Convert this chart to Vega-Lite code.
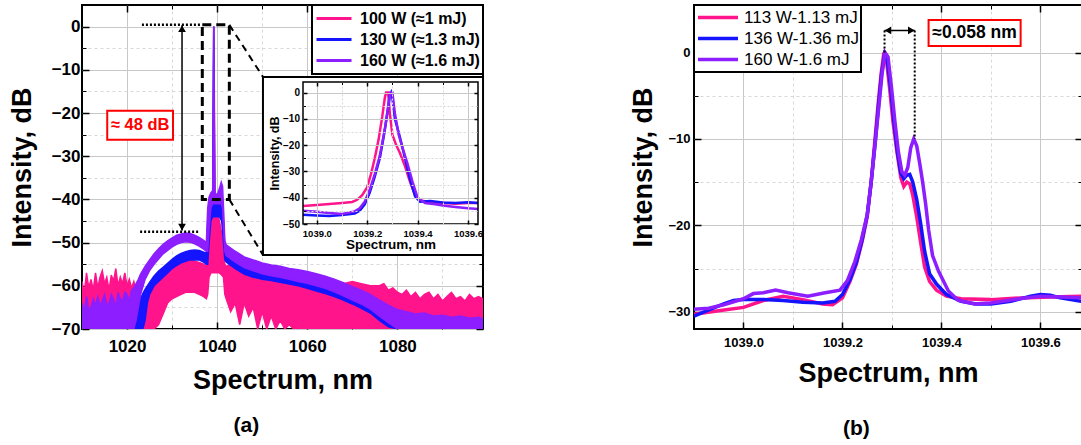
{
"$schema":"https://vega.github.io/schema/vega-lite/v6.json",
"padding":{"left":7,"top":3,"right":0,"bottom":0},
"config":{"font":"Liberation Sans","view":{"stroke":"black","strokeWidth":2},
"legend":{"strokeWidth":2},
"axis":{"grid":false,"labels":false,"domain":false,"ticks":true,"tickColor":"black","tickWidth":1.5,"labelColor":"black","titleColor":"black","labelFontWeight":"bold","titleFontWeight":"bold","gridColor":"#c8c8c8","gridWidth":1,"labelOverlap":false,"labelFlush":false,"minExtent":0}},
"spacing":142,
"resolve":{"scale":{"fill":"independent","stroke":"independent"}},
"hconcat":[
{"width":401,"height":324,
"title":{"text":"(a)","orient":"bottom","frame":"bounds","anchor":"middle","fontSize":21,"fontWeight":"bold","offset":22,"color":"black"},
"resolve":{"scale":{"x":"independent","y":"independent"},"axis":{"x":"independent","y":"independent"}},
"layer":[
{"resolve":{"axis":{"x":"independent","y":"independent"}},
"layer":[
{"data":{"values":[
{"s":"100 W (≈1 mJ)","x":1010,"hi":-59,"lo":-66},{"s":"100 W (≈1 mJ)","x":1010.5,"hi":-62,"lo":-66},{"s":"100 W (≈1 mJ)","x":1011,"hi":-57,"lo":-66},{"s":"100 W (≈1 mJ)","x":1011.5,"hi":-60.5,"lo":-66},{"s":"100 W (≈1 mJ)","x":1012,"hi":-58.5,"lo":-66},{"s":"100 W (≈1 mJ)","x":1012.5,"hi":-61,"lo":-66},{"s":"100 W (≈1 mJ)","x":1013,"hi":-57,"lo":-66},{"s":"100 W (≈1 mJ)","x":1013.5,"hi":-60.5,"lo":-66},{"s":"100 W (≈1 mJ)","x":1014,"hi":-58,"lo":-66},{"s":"100 W (≈1 mJ)","x":1014.5,"hi":-56.5,"lo":-66},{"s":"100 W (≈1 mJ)","x":1015,"hi":-59.5,"lo":-66},{"s":"100 W (≈1 mJ)","x":1015.5,"hi":-58,"lo":-66},{"s":"100 W (≈1 mJ)","x":1016,"hi":-61,"lo":-66},{"s":"100 W (≈1 mJ)","x":1016.5,"hi":-57.5,"lo":-66},{"s":"100 W (≈1 mJ)","x":1017,"hi":-59,"lo":-66},{"s":"100 W (≈1 mJ)","x":1017.5,"hi":-56,"lo":-66},{"s":"100 W (≈1 mJ)","x":1018,"hi":-60,"lo":-66},{"s":"100 W (≈1 mJ)","x":1018.5,"hi":-58,"lo":-66},{"s":"100 W (≈1 mJ)","x":1019,"hi":-59.5,"lo":-66},{"s":"100 W (≈1 mJ)","x":1019.5,"hi":-57,"lo":-66},{"s":"100 W (≈1 mJ)","x":1020,"hi":-60,"lo":-66},{"s":"100 W (≈1 mJ)","x":1020.5,"hi":-58.5,"lo":-66},{"s":"100 W (≈1 mJ)","x":1021,"hi":-60.5,"lo":-66},{"s":"100 W (≈1 mJ)","x":1021.5,"hi":-59,"lo":-66},{"s":"100 W (≈1 mJ)","x":1022,"hi":-61,"lo":-67},{"s":"100 W (≈1 mJ)","x":1022.5,"hi":-62.5,"lo":-68},{"s":"100 W (≈1 mJ)","x":1023,"hi":-64,"lo":-70},{"s":"100 W (≈1 mJ)","x":1023.5,"hi":-67,"lo":-70},{"s":"100 W (≈1 mJ)","x":1024,"hi":-64.5,"lo":-70},{"s":"100 W (≈1 mJ)","x":1024.5,"hi":-61,"lo":-70},{"s":"100 W (≈1 mJ)","x":1025,"hi":-60,"lo":-70},{"s":"100 W (≈1 mJ)","x":1026,"hi":-58.8,"lo":-70},{"s":"100 W (≈1 mJ)","x":1027,"hi":-58,"lo":-69},{"s":"100 W (≈1 mJ)","x":1028,"hi":-57.2,"lo":-66.5},{"s":"100 W (≈1 mJ)","x":1029,"hi":-56.3,"lo":-64},{"s":"100 W (≈1 mJ)","x":1030,"hi":-55.6,"lo":-63},{"s":"100 W (≈1 mJ)","x":1031,"hi":-55,"lo":-62.5},{"s":"100 W (≈1 mJ)","x":1032,"hi":-54.8,"lo":-62},{"s":"100 W (≈1 mJ)","x":1033,"hi":-54.2,"lo":-61.5},{"s":"100 W (≈1 mJ)","x":1034,"hi":-54,"lo":-61.5},{"s":"100 W (≈1 mJ)","x":1035,"hi":-54.3,"lo":-61.5},{"s":"100 W (≈1 mJ)","x":1036,"hi":-54.6,"lo":-62},{"s":"100 W (≈1 mJ)","x":1037,"hi":-55,"lo":-62.5},{"s":"100 W (≈1 mJ)","x":1037.6,"hi":-55.5,"lo":-63},{"s":"100 W (≈1 mJ)","x":1037.9,"hi":-51,"lo":-62},{"s":"100 W (≈1 mJ)","x":1038.2,"hi":-45.5,"lo":-58},{"s":"100 W (≈1 mJ)","x":1038.6,"hi":-43.5,"lo":-57},{"s":"100 W (≈1 mJ)","x":1039.0,"hi":-42,"lo":-57},{"s":"100 W (≈1 mJ)","x":1039.15,"hi":-20,"lo":-57},{"s":"100 W (≈1 mJ)","x":1039.27,"hi":0,"lo":-57},{"s":"100 W (≈1 mJ)","x":1039.4,"hi":-20,"lo":-57},{"s":"100 W (≈1 mJ)","x":1039.55,"hi":-42,"lo":-57},{"s":"100 W (≈1 mJ)","x":1040,"hi":-43,"lo":-57},{"s":"100 W (≈1 mJ)","x":1040.5,"hi":-45,"lo":-57},{"s":"100 W (≈1 mJ)","x":1041,"hi":-48,"lo":-57.5},{"s":"100 W (≈1 mJ)","x":1041.4,"hi":-53,"lo":-58},{"s":"100 W (≈1 mJ)","x":1041.7,"hi":-55,"lo":-62},{"s":"100 W (≈1 mJ)","x":1042,"hi":-55.5,"lo":-63},{"s":"100 W (≈1 mJ)","x":1043,"hi":-55,"lo":-66},{"s":"100 W (≈1 mJ)","x":1044,"hi":-56,"lo":-64},{"s":"100 W (≈1 mJ)","x":1045,"hi":-55.5,"lo":-69},{"s":"100 W (≈1 mJ)","x":1046,"hi":-56.5,"lo":-64},{"s":"100 W (≈1 mJ)","x":1047,"hi":-56,"lo":-67},{"s":"100 W (≈1 mJ)","x":1048,"hi":-57,"lo":-65},{"s":"100 W (≈1 mJ)","x":1049,"hi":-56.5,"lo":-70},{"s":"100 W (≈1 mJ)","x":1050,"hi":-57,"lo":-66},{"s":"100 W (≈1 mJ)","x":1051,"hi":-57.5,"lo":-70},{"s":"100 W (≈1 mJ)","x":1052,"hi":-57,"lo":-67},{"s":"100 W (≈1 mJ)","x":1053,"hi":-58,"lo":-70},{"s":"100 W (≈1 mJ)","x":1054,"hi":-57.5,"lo":-68},{"s":"100 W (≈1 mJ)","x":1055,"hi":-58,"lo":-70},{"s":"100 W (≈1 mJ)","x":1056,"hi":-58.5,"lo":-69},{"s":"100 W (≈1 mJ)","x":1057,"hi":-58,"lo":-70},{"s":"100 W (≈1 mJ)","x":1058,"hi":-59,"lo":-70},{"s":"100 W (≈1 mJ)","x":1060,"hi":-58.5,"lo":-70},{"s":"100 W (≈1 mJ)","x":1062,"hi":-59,"lo":-70},{"s":"100 W (≈1 mJ)","x":1064,"hi":-58.5,"lo":-70},{"s":"100 W (≈1 mJ)","x":1066,"hi":-59,"lo":-70},{"s":"100 W (≈1 mJ)","x":1068,"hi":-59.5,"lo":-70},{"s":"100 W (≈1 mJ)","x":1070,"hi":-59,"lo":-70},{"s":"100 W (≈1 mJ)","x":1072,"hi":-59.5,"lo":-70},{"s":"100 W (≈1 mJ)","x":1074,"hi":-60,"lo":-70},{"s":"100 W (≈1 mJ)","x":1076,"hi":-60,"lo":-70},{"s":"100 W (≈1 mJ)","x":1077,"hi":-59.5,"lo":-70},{"s":"100 W (≈1 mJ)","x":1078,"hi":-61,"lo":-70},{"s":"100 W (≈1 mJ)","x":1079,"hi":-60.5,"lo":-70},{"s":"100 W (≈1 mJ)","x":1080,"hi":-61.5,"lo":-70},{"s":"100 W (≈1 mJ)","x":1081,"hi":-62,"lo":-70},{"s":"100 W (≈1 mJ)","x":1082,"hi":-61,"lo":-70},{"s":"100 W (≈1 mJ)","x":1083,"hi":-62.5,"lo":-70},{"s":"100 W (≈1 mJ)","x":1084,"hi":-61.5,"lo":-70},{"s":"100 W (≈1 mJ)","x":1085,"hi":-63,"lo":-70},{"s":"100 W (≈1 mJ)","x":1086,"hi":-62,"lo":-70},{"s":"100 W (≈1 mJ)","x":1087,"hi":-61.5,"lo":-70},{"s":"100 W (≈1 mJ)","x":1088,"hi":-63,"lo":-70},{"s":"100 W (≈1 mJ)","x":1089,"hi":-62,"lo":-70},{"s":"100 W (≈1 mJ)","x":1090,"hi":-63.5,"lo":-70},{"s":"100 W (≈1 mJ)","x":1091,"hi":-62.5,"lo":-70},{"s":"100 W (≈1 mJ)","x":1092,"hi":-61.5,"lo":-70},{"s":"100 W (≈1 mJ)","x":1093,"hi":-63,"lo":-70},{"s":"100 W (≈1 mJ)","x":1094,"hi":-62.5,"lo":-70},{"s":"100 W (≈1 mJ)","x":1095,"hi":-63.5,"lo":-70},{"s":"100 W (≈1 mJ)","x":1096,"hi":-62,"lo":-70},{"s":"100 W (≈1 mJ)","x":1097,"hi":-63,"lo":-70},{"s":"100 W (≈1 mJ)","x":1098,"hi":-62.5,"lo":-70},{"s":"100 W (≈1 mJ)","x":1099,"hi":-63,"lo":-70},
{"s":"130 W (≈1.3 mJ)","x":1010,"hi":-67,"lo":-70},{"s":"130 W (≈1.3 mJ)","x":1011,"hi":-66,"lo":-70},{"s":"130 W (≈1.3 mJ)","x":1012,"hi":-68,"lo":-70},{"s":"130 W (≈1.3 mJ)","x":1013,"hi":-66.5,"lo":-70},{"s":"130 W (≈1.3 mJ)","x":1014,"hi":-67,"lo":-70},{"s":"130 W (≈1.3 mJ)","x":1015,"hi":-65.5,"lo":-70},{"s":"130 W (≈1.3 mJ)","x":1016,"hi":-67.5,"lo":-70},{"s":"130 W (≈1.3 mJ)","x":1017,"hi":-66,"lo":-70},{"s":"130 W (≈1.3 mJ)","x":1018,"hi":-67,"lo":-70},{"s":"130 W (≈1.3 mJ)","x":1019,"hi":-65.5,"lo":-70},{"s":"130 W (≈1.3 mJ)","x":1020,"hi":-66.5,"lo":-70},{"s":"130 W (≈1.3 mJ)","x":1021,"hi":-67,"lo":-70},{"s":"130 W (≈1.3 mJ)","x":1022,"hi":-67,"lo":-70},{"s":"130 W (≈1.3 mJ)","x":1022.5,"hi":-65,"lo":-70},{"s":"130 W (≈1.3 mJ)","x":1023,"hi":-63,"lo":-70},{"s":"130 W (≈1.3 mJ)","x":1023.5,"hi":-61.8,"lo":-70},{"s":"130 W (≈1.3 mJ)","x":1024,"hi":-60.8,"lo":-68},{"s":"130 W (≈1.3 mJ)","x":1024.5,"hi":-60,"lo":-64},{"s":"130 W (≈1.3 mJ)","x":1025,"hi":-59.2,"lo":-62},{"s":"130 W (≈1.3 mJ)","x":1026,"hi":-57.7,"lo":-60},{"s":"130 W (≈1.3 mJ)","x":1027,"hi":-56.6,"lo":-59},{"s":"130 W (≈1.3 mJ)","x":1028,"hi":-55.7,"lo":-58},{"s":"130 W (≈1.3 mJ)","x":1029,"hi":-54.8,"lo":-57},{"s":"130 W (≈1.3 mJ)","x":1030,"hi":-53.9,"lo":-56},{"s":"130 W (≈1.3 mJ)","x":1031,"hi":-53.1,"lo":-55.3},{"s":"130 W (≈1.3 mJ)","x":1032,"hi":-52.5,"lo":-54.7},{"s":"130 W (≈1.3 mJ)","x":1033,"hi":-52.1,"lo":-54.3},{"s":"130 W (≈1.3 mJ)","x":1034,"hi":-51.8,"lo":-54},{"s":"130 W (≈1.3 mJ)","x":1035,"hi":-51.7,"lo":-54},{"s":"130 W (≈1.3 mJ)","x":1036,"hi":-51.8,"lo":-54},{"s":"130 W (≈1.3 mJ)","x":1037,"hi":-52.2,"lo":-54.5},{"s":"130 W (≈1.3 mJ)","x":1037.6,"hi":-52.5,"lo":-55},{"s":"130 W (≈1.3 mJ)","x":1037.9,"hi":-45,"lo":-55},{"s":"130 W (≈1.3 mJ)","x":1038.2,"hi":-41.5,"lo":-50},{"s":"130 W (≈1.3 mJ)","x":1038.6,"hi":-40.5,"lo":-45},{"s":"130 W (≈1.3 mJ)","x":1039.0,"hi":-40,"lo":-44},{"s":"130 W (≈1.3 mJ)","x":1039.1,"hi":-20,"lo":-44},{"s":"130 W (≈1.3 mJ)","x":1039.22,"hi":0,"lo":-44},{"s":"130 W (≈1.3 mJ)","x":1039.34,"hi":-20,"lo":-44},{"s":"130 W (≈1.3 mJ)","x":1039.45,"hi":-40,"lo":-44},{"s":"130 W (≈1.3 mJ)","x":1040,"hi":-40,"lo":-44},{"s":"130 W (≈1.3 mJ)","x":1040.5,"hi":-39.5,"lo":-44},{"s":"130 W (≈1.3 mJ)","x":1041,"hi":-40,"lo":-45},{"s":"130 W (≈1.3 mJ)","x":1041.4,"hi":-45,"lo":-50},{"s":"130 W (≈1.3 mJ)","x":1041.7,"hi":-51,"lo":-54},{"s":"130 W (≈1.3 mJ)","x":1042,"hi":-52,"lo":-54.5},{"s":"130 W (≈1.3 mJ)","x":1044,"hi":-53.5,"lo":-56},{"s":"130 W (≈1.3 mJ)","x":1046,"hi":-54.8,"lo":-57.3},{"s":"130 W (≈1.3 mJ)","x":1048,"hi":-55.5,"lo":-58},{"s":"130 W (≈1.3 mJ)","x":1050,"hi":-56,"lo":-58.5},{"s":"130 W (≈1.3 mJ)","x":1052,"hi":-56.3,"lo":-58.8},{"s":"130 W (≈1.3 mJ)","x":1054,"hi":-56.6,"lo":-59.2},{"s":"130 W (≈1.3 mJ)","x":1056,"hi":-57,"lo":-59.6},{"s":"130 W (≈1.3 mJ)","x":1058,"hi":-57.5,"lo":-60},{"s":"130 W (≈1.3 mJ)","x":1060,"hi":-58,"lo":-60.6},{"s":"130 W (≈1.3 mJ)","x":1062,"hi":-58.5,"lo":-61.2},{"s":"130 W (≈1.3 mJ)","x":1064,"hi":-59,"lo":-61.8},{"s":"130 W (≈1.3 mJ)","x":1066,"hi":-59.8,"lo":-62.5},{"s":"130 W (≈1.3 mJ)","x":1068,"hi":-60.5,"lo":-63.3},{"s":"130 W (≈1.3 mJ)","x":1070,"hi":-61.5,"lo":-64.2},{"s":"130 W (≈1.3 mJ)","x":1072,"hi":-62.5,"lo":-65.2},{"s":"130 W (≈1.3 mJ)","x":1074,"hi":-63.5,"lo":-66.3},{"s":"130 W (≈1.3 mJ)","x":1076,"hi":-65,"lo":-68},{"s":"130 W (≈1.3 mJ)","x":1078,"hi":-66.5,"lo":-69.5},{"s":"130 W (≈1.3 mJ)","x":1080,"hi":-68,"lo":-70},{"s":"130 W (≈1.3 mJ)","x":1082,"hi":-69,"lo":-70},{"s":"130 W (≈1.3 mJ)","x":1086,"hi":-69.5,"lo":-70},{"s":"130 W (≈1.3 mJ)","x":1090,"hi":-69,"lo":-70},{"s":"130 W (≈1.3 mJ)","x":1094,"hi":-69.5,"lo":-70},{"s":"130 W (≈1.3 mJ)","x":1099,"hi":-69.5,"lo":-70},
{"s":"160 W (≈1.6 mJ)","x":1010,"hi":-64,"lo":-70},{"s":"160 W (≈1.6 mJ)","x":1010.5,"hi":-66,"lo":-70},{"s":"160 W (≈1.6 mJ)","x":1011,"hi":-62.5,"lo":-70},{"s":"160 W (≈1.6 mJ)","x":1011.5,"hi":-65.5,"lo":-70},{"s":"160 W (≈1.6 mJ)","x":1012,"hi":-65,"lo":-70},{"s":"160 W (≈1.6 mJ)","x":1012.5,"hi":-63,"lo":-70},{"s":"160 W (≈1.6 mJ)","x":1013,"hi":-64.5,"lo":-70},{"s":"160 W (≈1.6 mJ)","x":1013.5,"hi":-62.5,"lo":-70},{"s":"160 W (≈1.6 mJ)","x":1014,"hi":-64.5,"lo":-70},{"s":"160 W (≈1.6 mJ)","x":1014.5,"hi":-63.5,"lo":-70},{"s":"160 W (≈1.6 mJ)","x":1015,"hi":-62,"lo":-70},{"s":"160 W (≈1.6 mJ)","x":1015.5,"hi":-64.5,"lo":-70},{"s":"160 W (≈1.6 mJ)","x":1016,"hi":-64,"lo":-70},{"s":"160 W (≈1.6 mJ)","x":1016.5,"hi":-62,"lo":-70},{"s":"160 W (≈1.6 mJ)","x":1017,"hi":-63,"lo":-70},{"s":"160 W (≈1.6 mJ)","x":1017.5,"hi":-65,"lo":-70},{"s":"160 W (≈1.6 mJ)","x":1018,"hi":-61.5,"lo":-70},{"s":"160 W (≈1.6 mJ)","x":1018.5,"hi":-63,"lo":-70},{"s":"160 W (≈1.6 mJ)","x":1019,"hi":-63.5,"lo":-70},{"s":"160 W (≈1.6 mJ)","x":1019.5,"hi":-61.5,"lo":-70},{"s":"160 W (≈1.6 mJ)","x":1020,"hi":-62,"lo":-70},{"s":"160 W (≈1.6 mJ)","x":1020.5,"hi":-63.5,"lo":-70},{"s":"160 W (≈1.6 mJ)","x":1021,"hi":-61,"lo":-70},{"s":"160 W (≈1.6 mJ)","x":1021.5,"hi":-60.5,"lo":-70},{"s":"160 W (≈1.6 mJ)","x":1022,"hi":-59.5,"lo":-68},{"s":"160 W (≈1.6 mJ)","x":1022.5,"hi":-58.5,"lo":-65},{"s":"160 W (≈1.6 mJ)","x":1023,"hi":-57.3,"lo":-62},{"s":"160 W (≈1.6 mJ)","x":1024,"hi":-55.5,"lo":-58.5},{"s":"160 W (≈1.6 mJ)","x":1025,"hi":-54,"lo":-56.5},{"s":"160 W (≈1.6 mJ)","x":1026,"hi":-52.6,"lo":-55},{"s":"160 W (≈1.6 mJ)","x":1027,"hi":-51.4,"lo":-53.8},{"s":"160 W (≈1.6 mJ)","x":1028,"hi":-50.4,"lo":-52.6},{"s":"160 W (≈1.6 mJ)","x":1029,"hi":-49.6,"lo":-51.8},{"s":"160 W (≈1.6 mJ)","x":1030,"hi":-48.9,"lo":-51},{"s":"160 W (≈1.6 mJ)","x":1031,"hi":-48.3,"lo":-50.4},{"s":"160 W (≈1.6 mJ)","x":1032,"hi":-48,"lo":-50},{"s":"160 W (≈1.6 mJ)","x":1033,"hi":-47.8,"lo":-49.8},{"s":"160 W (≈1.6 mJ)","x":1034,"hi":-47.9,"lo":-49.9},{"s":"160 W (≈1.6 mJ)","x":1035,"hi":-48.3,"lo":-50.3},{"s":"160 W (≈1.6 mJ)","x":1036,"hi":-48.8,"lo":-50.8},{"s":"160 W (≈1.6 mJ)","x":1037,"hi":-49.5,"lo":-51.5},{"s":"160 W (≈1.6 mJ)","x":1037.6,"hi":-50,"lo":-52},{"s":"160 W (≈1.6 mJ)","x":1037.9,"hi":-42,"lo":-52},{"s":"160 W (≈1.6 mJ)","x":1038.2,"hi":-39.5,"lo":-47},{"s":"160 W (≈1.6 mJ)","x":1038.6,"hi":-38.5,"lo":-42},{"s":"160 W (≈1.6 mJ)","x":1039.0,"hi":-38,"lo":-41},{"s":"160 W (≈1.6 mJ)","x":1039.12,"hi":-20,"lo":-41},{"s":"160 W (≈1.6 mJ)","x":1039.24,"hi":0,"lo":-41},{"s":"160 W (≈1.6 mJ)","x":1039.36,"hi":-20,"lo":-41},{"s":"160 W (≈1.6 mJ)","x":1039.48,"hi":-38.5,"lo":-41},{"s":"160 W (≈1.6 mJ)","x":1040,"hi":-39,"lo":-41},{"s":"160 W (≈1.6 mJ)","x":1040.5,"hi":-37.5,"lo":-41},{"s":"160 W (≈1.6 mJ)","x":1040.9,"hi":-36,"lo":-41},{"s":"160 W (≈1.6 mJ)","x":1041.2,"hi":-37,"lo":-42},{"s":"160 W (≈1.6 mJ)","x":1041.45,"hi":-43,"lo":-48},{"s":"160 W (≈1.6 mJ)","x":1041.7,"hi":-49.5,"lo":-52},{"s":"160 W (≈1.6 mJ)","x":1042,"hi":-50.5,"lo":-53},{"s":"160 W (≈1.6 mJ)","x":1044,"hi":-52,"lo":-54.5},{"s":"160 W (≈1.6 mJ)","x":1046,"hi":-53.3,"lo":-55.8},{"s":"160 W (≈1.6 mJ)","x":1048,"hi":-54,"lo":-56.5},{"s":"160 W (≈1.6 mJ)","x":1050,"hi":-54.7,"lo":-57.2},{"s":"160 W (≈1.6 mJ)","x":1052,"hi":-55.2,"lo":-57.7},{"s":"160 W (≈1.6 mJ)","x":1054,"hi":-55.5,"lo":-58},{"s":"160 W (≈1.6 mJ)","x":1056,"hi":-56,"lo":-58.5},{"s":"160 W (≈1.6 mJ)","x":1058,"hi":-56.3,"lo":-59},{"s":"160 W (≈1.6 mJ)","x":1060,"hi":-56.7,"lo":-59.4},{"s":"160 W (≈1.6 mJ)","x":1062,"hi":-57.2,"lo":-60},{"s":"160 W (≈1.6 mJ)","x":1064,"hi":-57.8,"lo":-60.6},{"s":"160 W (≈1.6 mJ)","x":1066,"hi":-58.5,"lo":-61.4},{"s":"160 W (≈1.6 mJ)","x":1068,"hi":-59.3,"lo":-62.3},{"s":"160 W (≈1.6 mJ)","x":1070,"hi":-60.2,"lo":-63.3},{"s":"160 W (≈1.6 mJ)","x":1072,"hi":-61,"lo":-64.2},{"s":"160 W (≈1.6 mJ)","x":1074,"hi":-62,"lo":-65.4},{"s":"160 W (≈1.6 mJ)","x":1076,"hi":-63.3,"lo":-67},{"s":"160 W (≈1.6 mJ)","x":1078,"hi":-64.5,"lo":-68.5},{"s":"160 W (≈1.6 mJ)","x":1080,"hi":-65.5,"lo":-70},{"s":"160 W (≈1.6 mJ)","x":1082,"hi":-66,"lo":-70},{"s":"160 W (≈1.6 mJ)","x":1084,"hi":-66.5,"lo":-70},{"s":"160 W (≈1.6 mJ)","x":1086,"hi":-66.3,"lo":-70},{"s":"160 W (≈1.6 mJ)","x":1088,"hi":-67,"lo":-70},{"s":"160 W (≈1.6 mJ)","x":1090,"hi":-66.8,"lo":-70},{"s":"160 W (≈1.6 mJ)","x":1092,"hi":-67.3,"lo":-70},{"s":"160 W (≈1.6 mJ)","x":1094,"hi":-67,"lo":-70},{"s":"160 W (≈1.6 mJ)","x":1096,"hi":-67.5,"lo":-70},{"s":"160 W (≈1.6 mJ)","x":1098,"hi":-67.3,"lo":-70},{"s":"160 W (≈1.6 mJ)","x":1099,"hi":-67.7,"lo":-70}
]},
"mark":{"type":"area","strokeWidth":1.5,"clip":true,"opacity":1},
"encoding":{
"x":{"field":"x","type":"quantitative","scale":{"domain":[1010,1099],"nice":false,"zero":false},"axis":{"orient":"bottom","values":[1020,1040,1060,1080],"format":"d","labels":true,"labelFontSize":17,"labelPadding":16,"tickSize":-7,"grid":true,"title":"Spectrum, nm","titleFontSize":27,"titlePadding":13}},
"y":{"field":"hi","type":"quantitative","scale":{"domain":[-70,5],"nice":false,"zero":false},"axis":{"orient":"left","values":[0,-10,-20,-30,-40,-50,-60,-70],"format":"d","labels":true,"labelFontSize":17,"labelPadding":9,"tickSize":-7,"grid":true,"title":"Intensity, dB","titleFontSize":27,"titlePadding":14.5}},
"y2":{"field":"lo"},
"fill":{"field":"s","type":"nominal","scale":{"domain":["160 W (≈1.6 mJ)","130 W (≈1.3 mJ)","100 W (≈1 mJ)"],"range":["#8C1EFF","#1414FF","#FF148C"]},"legend":null},
"stroke":{"field":"s","type":"nominal","scale":{"domain":["100 W (≈1 mJ)","130 W (≈1.3 mJ)","160 W (≈1.6 mJ)"],"range":["#FF148C","#1414FF","#8C1EFF"]},"legend":{"orient":"top-right","title":null,"symbolType":"stroke","symbolSize":1225,"symbolStrokeWidth":3,"clipHeight":21,"labelFontSize":16,"labelFontWeight":"bold","labelColor":"black","padding":3,"offset":0,"strokeColor":"black","fillColor":"white","labelOffset":7,"rowPadding":0}}
}},
{"data":{"values":[{"x":1023.3,"x2":1036.4,"y":0.4},{"x":1022.9,"x2":1036,"y":-47.5}]},
"mark":{"type":"rule","strokeDash":[2,2],"strokeWidth":2.5,"color":"black"},
"encoding":{
"x":{"field":"x","type":"quantitative","scale":{"domain":[1010,1099],"nice":false,"zero":false},"axis":{"orient":"bottom","values":[1030,1050,1070,1090],"tickSize":-4,"tickWidth":1,"grid":true,"gridDash":[3,3],"gridColor":"#d8d8d8","title":null}},
"x2":{"field":"x2"},
"y":{"field":"y","type":"quantitative","scale":{"domain":[-70,5],"nice":false,"zero":false},"axis":{"orient":"left","values":[-5,-15,-25,-35,-45,-55,-65],"tickSize":-4,"tickWidth":1,"grid":true,"gridDash":[3,3],"gridColor":"#d8d8d8","title":null}}
}},
{"data":{"values":[{"x":1036.7,"x2":1042.7,"y":0.4,"y2":-40}]},
"mark":{"type":"rect","fill":"transparent","stroke":"black","strokeWidth":3,"strokeDash":[9,5]},
"encoding":{
"x":{"field":"x","type":"quantitative","scale":{"domain":[1010,1099],"nice":false,"zero":false},"axis":{"orient":"top","values":[1020,1040,1060,1080],"tickSize":-7,"title":null}},
"x2":{"field":"x2"},
"y":{"field":"y","type":"quantitative","scale":{"domain":[-70,5],"nice":false,"zero":false},"axis":{"orient":"right","values":[0,-10,-20,-30,-40,-50,-60,-70],"tickSize":-7,"title":null}},
"y2":{"field":"y2"}
}},
{"data":{"values":[{"x":1032.2,"y":0.3,"y2":-47.2}]},
"mark":{"type":"rule","strokeWidth":1.5,"color":"black"},
"encoding":{
"x":{"field":"x","type":"quantitative","scale":{"domain":[1010,1099],"nice":false,"zero":false},"axis":{"orient":"top","values":[1030,1050,1070,1090],"tickSize":-4,"tickWidth":1,"title":null}},
"y":{"field":"y","type":"quantitative","scale":{"domain":[-70,5],"nice":false,"zero":false},"axis":{"orient":"right","values":[-5,-15,-25,-35,-45,-55,-65],"tickSize":-4,"tickWidth":1,"title":null}},
"y2":{"field":"y2"}
}},
{"data":{"values":[{"x":1032.2,"y":-0.5,"sh":"triangle-up"},{"x":1032.2,"y":-46.4,"sh":"triangle-down"}]},
"mark":{"type":"point","filled":true,"color":"black","size":60,"opacity":1},
"encoding":{
"x":{"field":"x","type":"quantitative","scale":{"domain":[1010,1099],"nice":false,"zero":false},"axis":null},
"y":{"field":"y","type":"quantitative","scale":{"domain":[-70,5],"nice":false,"zero":false},"axis":null},
"shape":{"field":"sh","type":"nominal","scale":null}
}},
{"data":{"values":[{"x":1042.7,"y":0.4,"x2":1050.2,"y2":-11.7},{"x":1042.7,"y":-40,"x2":1050.2,"y2":-52.9}]},
"mark":{"type":"rule","strokeDash":[7,5],"strokeWidth":2,"color":"black"},
"encoding":{
"x":{"field":"x","type":"quantitative","scale":{"domain":[1010,1099],"nice":false,"zero":false},"axis":null},
"x2":{"field":"x2"},
"y":{"field":"y","type":"quantitative","scale":{"domain":[-70,5],"nice":false,"zero":false},"axis":null},
"y2":{"field":"y2"}
}},
{"data":{"values":[{"x":1015.6,"x2":1030.2,"y":-19.5,"y2":-26.2}]},
"mark":{"type":"rect","fill":"white","stroke":"#FF0000","strokeWidth":2},
"encoding":{
"x":{"field":"x","type":"quantitative","scale":{"domain":[1010,1099],"nice":false,"zero":false},"axis":null},
"x2":{"field":"x2"},
"y":{"field":"y","type":"quantitative","scale":{"domain":[-70,5],"nice":false,"zero":false},"axis":null},
"y2":{"field":"y2"}
}},
{"data":{"values":[{"x":1022.9,"y":-22.85,"t":"≈ 48 dB"}]},
"mark":{"type":"text","color":"#FF0000","fontSize":16.5,"fontWeight":"bold","align":"center","baseline":"middle"},
"encoding":{
"x":{"field":"x","type":"quantitative","scale":{"domain":[1010,1099],"nice":false,"zero":false},"axis":null},
"y":{"field":"y","type":"quantitative","scale":{"domain":[-70,5],"nice":false,"zero":false},"axis":null},
"text":{"field":"t"}
}}
]},
{"resolve":{"axis":{"x":"independent","y":"independent"}},
"layer":[
{"data":{"values":[{"x":1038.786,"x2":1039.66,"y":5.9,"y2":-61.8}]},
"mark":{"type":"rect","fill":"white","stroke":"black","strokeWidth":2},
"encoding":{
"x":{"field":"x","type":"quantitative","scale":{"domain":[1038.945,1039.64],"range":[221,396],"nice":false,"zero":false},"axis":{"orient":"top","offset":-77,"values":[1039.1,1039.3,1039.5],"tickSize":-2.5,"tickWidth":1,"grid":true,"gridDash":[2,2],"gridColor":"#d8d8d8","title":null,"zindex":1}},
"x2":{"field":"x2"},
"y":{"field":"y","type":"quantitative","scale":{"domain":[-50,4],"range":[219,77],"nice":false,"zero":false},"axis":{"orient":"left","offset":-221,"values":[-5,-15,-25,-35,-45],"tickSize":-2.5,"tickWidth":1,"grid":true,"gridDash":[2,2],"gridColor":"#d8d8d8","title":null,"zindex":1}},
"y2":{"field":"y2"}
}},
{"data":{"values":[
{"s":"100 W (≈1 mJ)","x":1038.945,"y":-43.2},{"s":"100 W (≈1 mJ)","x":1039.0,"y":-42.8},{"s":"100 W (≈1 mJ)","x":1039.05,"y":-42.4},{"s":"100 W (≈1 mJ)","x":1039.1,"y":-42},{"s":"100 W (≈1 mJ)","x":1039.14,"y":-41.6},{"s":"100 W (≈1 mJ)","x":1039.16,"y":-40.8},{"s":"100 W (≈1 mJ)","x":1039.18,"y":-39},{"s":"100 W (≈1 mJ)","x":1039.2,"y":-36},{"s":"100 W (≈1 mJ)","x":1039.215,"y":-31},{"s":"100 W (≈1 mJ)","x":1039.23,"y":-25},{"s":"100 W (≈1 mJ)","x":1039.245,"y":-18},{"s":"100 W (≈1 mJ)","x":1039.26,"y":-9},{"s":"100 W (≈1 mJ)","x":1039.27,"y":-2},{"s":"100 W (≈1 mJ)","x":1039.275,"y":0},{"s":"100 W (≈1 mJ)","x":1039.283,"y":0},{"s":"100 W (≈1 mJ)","x":1039.29,"y":-8},{"s":"100 W (≈1 mJ)","x":1039.3,"y":-16},{"s":"100 W (≈1 mJ)","x":1039.315,"y":-20},{"s":"100 W (≈1 mJ)","x":1039.33,"y":-23},{"s":"100 W (≈1 mJ)","x":1039.35,"y":-28},{"s":"100 W (≈1 mJ)","x":1039.37,"y":-34},{"s":"100 W (≈1 mJ)","x":1039.39,"y":-39},{"s":"100 W (≈1 mJ)","x":1039.41,"y":-41},{"s":"100 W (≈1 mJ)","x":1039.45,"y":-41.8},{"s":"100 W (≈1 mJ)","x":1039.5,"y":-42},{"s":"100 W (≈1 mJ)","x":1039.55,"y":-42.3},{"s":"100 W (≈1 mJ)","x":1039.6,"y":-42},{"s":"100 W (≈1 mJ)","x":1039.64,"y":-42},
{"s":"130 W (≈1.3 mJ)","x":1038.945,"y":-46.5},{"s":"130 W (≈1.3 mJ)","x":1039.0,"y":-46.8},{"s":"130 W (≈1.3 mJ)","x":1039.05,"y":-47},{"s":"130 W (≈1.3 mJ)","x":1039.1,"y":-46.6},{"s":"130 W (≈1.3 mJ)","x":1039.15,"y":-46},{"s":"130 W (≈1.3 mJ)","x":1039.17,"y":-45},{"s":"130 W (≈1.3 mJ)","x":1039.19,"y":-42.5},{"s":"130 W (≈1.3 mJ)","x":1039.21,"y":-38},{"s":"130 W (≈1.3 mJ)","x":1039.23,"y":-32},{"s":"130 W (≈1.3 mJ)","x":1039.25,"y":-25},{"s":"130 W (≈1.3 mJ)","x":1039.265,"y":-17},{"s":"130 W (≈1.3 mJ)","x":1039.28,"y":-8},{"s":"130 W (≈1.3 mJ)","x":1039.29,"y":-1},{"s":"130 W (≈1.3 mJ)","x":1039.295,"y":0},{"s":"130 W (≈1.3 mJ)","x":1039.3,"y":-2},{"s":"130 W (≈1.3 mJ)","x":1039.31,"y":-10},{"s":"130 W (≈1.3 mJ)","x":1039.33,"y":-17},{"s":"130 W (≈1.3 mJ)","x":1039.35,"y":-25},{"s":"130 W (≈1.3 mJ)","x":1039.37,"y":-33},{"s":"130 W (≈1.3 mJ)","x":1039.39,"y":-39.5},{"s":"130 W (≈1.3 mJ)","x":1039.41,"y":-41.5},{"s":"130 W (≈1.3 mJ)","x":1039.45,"y":-41.3},{"s":"130 W (≈1.3 mJ)","x":1039.5,"y":-41.8},{"s":"130 W (≈1.3 mJ)","x":1039.55,"y":-42},{"s":"130 W (≈1.3 mJ)","x":1039.6,"y":-41.7},{"s":"130 W (≈1.3 mJ)","x":1039.64,"y":-42},
{"s":"160 W (≈1.6 mJ)","x":1038.945,"y":-45},{"s":"160 W (≈1.6 mJ)","x":1039.0,"y":-45.3},{"s":"160 W (≈1.6 mJ)","x":1039.05,"y":-45.8},{"s":"160 W (≈1.6 mJ)","x":1039.1,"y":-46.2},{"s":"160 W (≈1.6 mJ)","x":1039.15,"y":-45.2},{"s":"160 W (≈1.6 mJ)","x":1039.17,"y":-44},{"s":"160 W (≈1.6 mJ)","x":1039.19,"y":-41.5},{"s":"160 W (≈1.6 mJ)","x":1039.21,"y":-37},{"s":"160 W (≈1.6 mJ)","x":1039.23,"y":-31},{"s":"160 W (≈1.6 mJ)","x":1039.25,"y":-24},{"s":"160 W (≈1.6 mJ)","x":1039.27,"y":-14},{"s":"160 W (≈1.6 mJ)","x":1039.285,"y":-4},{"s":"160 W (≈1.6 mJ)","x":1039.292,"y":0},{"s":"160 W (≈1.6 mJ)","x":1039.3,"y":0},{"s":"160 W (≈1.6 mJ)","x":1039.31,"y":-8},{"s":"160 W (≈1.6 mJ)","x":1039.325,"y":-16},{"s":"160 W (≈1.6 mJ)","x":1039.34,"y":-21},{"s":"160 W (≈1.6 mJ)","x":1039.36,"y":-27},{"s":"160 W (≈1.6 mJ)","x":1039.38,"y":-34},{"s":"160 W (≈1.6 mJ)","x":1039.4,"y":-40},{"s":"160 W (≈1.6 mJ)","x":1039.43,"y":-42},{"s":"160 W (≈1.6 mJ)","x":1039.47,"y":-42.5},{"s":"160 W (≈1.6 mJ)","x":1039.5,"y":-43},{"s":"160 W (≈1.6 mJ)","x":1039.55,"y":-43.5},{"s":"160 W (≈1.6 mJ)","x":1039.6,"y":-44},{"s":"160 W (≈1.6 mJ)","x":1039.64,"y":-44.3}
]},
"mark":{"type":"line","strokeWidth":2.5,"clip":true},
"encoding":{
"x":{"field":"x","type":"quantitative","scale":{"domain":[1038.945,1039.64],"range":[221,396],"nice":false,"zero":false},"axis":{"orient":"bottom","offset":-105,"values":[1039.0,1039.2,1039.4,1039.6],"format":".1f","labels":true,"labelFontSize":9.5,"labelPadding":8,"tickSize":-4,"title":"Spectrum, nm","titleFontSize":13.5,"titlePadding":0,"zindex":1}},
"y":{"field":"y","type":"quantitative","scale":{"domain":[-50,4],"range":[219,77],"nice":false,"zero":false},"axis":{"orient":"left","offset":-221,"values":[0,-10,-20,-30,-40,-50],"format":"d","labels":true,"labelFontSize":10,"labelPadding":7.5,"tickSize":-4,"grid":true,"title":"Intensity, dB","titleFontSize":12.5,"titlePadding":1,"zindex":1}},
"stroke":{"field":"s","type":"nominal","scale":{"domain":["100 W (≈1 mJ)","130 W (≈1.3 mJ)","160 W (≈1.6 mJ)"],"range":["#FF148C","#1414FF","#8C1EFF"]},"legend":{"orient":"top-right","title":null,"symbolType":"stroke","symbolSize":1225,"symbolStrokeWidth":3,"clipHeight":21,"labelFontSize":16,"labelFontWeight":"bold","labelColor":"black","padding":3,"offset":0,"strokeColor":"black","fillColor":"white","labelOffset":7,"rowPadding":0}}
}},
{"data":{"values":[{"x":1038.945,"x2":1039.64,"y":4,"y2":-50}]},
"mark":{"type":"rect","fill":"transparent","stroke":"black","strokeWidth":1.5},
"encoding":{
"x":{"field":"x","type":"quantitative","scale":{"domain":[1038.945,1039.64],"range":[221,396],"nice":false,"zero":false},"axis":{"orient":"top","offset":-77,"values":[1039.0,1039.2,1039.4,1039.6],"tickSize":-4,"grid":true,"title":null,"zindex":1}},
"x2":{"field":"x2"},
"y":{"field":"y","type":"quantitative","scale":{"domain":[-50,4],"range":[219,77],"nice":false,"zero":false},"axis":{"orient":"right","offset":-5,"values":[0,-10,-20,-30,-40,-50],"tickSize":-4,"title":null,"zindex":1}},
"y2":{"field":"y2"}
}}
]}
]},
{"width":388,"height":324,
"title":{"text":"(b)","orient":"bottom","frame":"bounds","anchor":"middle","fontSize":21,"fontWeight":"bold","offset":31,"color":"black"},
"resolve":{"axis":{"x":"independent","y":"independent"}},
"layer":[
{"data":{"values":[
{"s":"113 W-1.13 mJ","x":1038.9,"y":-30.3},{"s":"113 W-1.13 mJ","x":1038.95,"y":-29.9},{"s":"113 W-1.13 mJ","x":1039.0,"y":-29.5},{"s":"113 W-1.13 mJ","x":1039.04,"y":-28.7},{"s":"113 W-1.13 mJ","x":1039.08,"y":-28.2},{"s":"113 W-1.13 mJ","x":1039.12,"y":-28.6},{"s":"113 W-1.13 mJ","x":1039.16,"y":-29.1},{"s":"113 W-1.13 mJ","x":1039.18,"y":-29.2},{"s":"113 W-1.13 mJ","x":1039.2,"y":-28.4},{"s":"113 W-1.13 mJ","x":1039.215,"y":-26.5},{"s":"113 W-1.13 mJ","x":1039.228,"y":-24.5},{"s":"113 W-1.13 mJ","x":1039.24,"y":-21.8},{"s":"113 W-1.13 mJ","x":1039.25,"y":-19},{"s":"113 W-1.13 mJ","x":1039.258,"y":-15},{"s":"113 W-1.13 mJ","x":1039.265,"y":-10.5},{"s":"113 W-1.13 mJ","x":1039.272,"y":-6},{"s":"113 W-1.13 mJ","x":1039.278,"y":-2.5},{"s":"113 W-1.13 mJ","x":1039.283,"y":-0.3},{"s":"113 W-1.13 mJ","x":1039.288,"y":-0.5},{"s":"113 W-1.13 mJ","x":1039.295,"y":-4},{"s":"113 W-1.13 mJ","x":1039.302,"y":-8},{"s":"113 W-1.13 mJ","x":1039.31,"y":-11.5},{"s":"113 W-1.13 mJ","x":1039.318,"y":-14.5},{"s":"113 W-1.13 mJ","x":1039.324,"y":-15.5},{"s":"113 W-1.13 mJ","x":1039.33,"y":-15},{"s":"113 W-1.13 mJ","x":1039.336,"y":-15.2},{"s":"113 W-1.13 mJ","x":1039.342,"y":-16.5},{"s":"113 W-1.13 mJ","x":1039.35,"y":-19},{"s":"113 W-1.13 mJ","x":1039.358,"y":-22},{"s":"113 W-1.13 mJ","x":1039.366,"y":-24.8},{"s":"113 W-1.13 mJ","x":1039.376,"y":-26.5},{"s":"113 W-1.13 mJ","x":1039.39,"y":-27.5},{"s":"113 W-1.13 mJ","x":1039.41,"y":-28.2},{"s":"113 W-1.13 mJ","x":1039.44,"y":-28.5},{"s":"113 W-1.13 mJ","x":1039.5,"y":-28.6},{"s":"113 W-1.13 mJ","x":1039.56,"y":-28.4},{"s":"113 W-1.13 mJ","x":1039.62,"y":-28.3},{"s":"113 W-1.13 mJ","x":1039.684,"y":-28.2},
{"s":"136 W-1.36 mJ","x":1038.9,"y":-30.5},{"s":"136 W-1.36 mJ","x":1038.93,"y":-29.8},{"s":"136 W-1.36 mJ","x":1038.96,"y":-29.1},{"s":"136 W-1.36 mJ","x":1038.98,"y":-28.7},{"s":"136 W-1.36 mJ","x":1039.0,"y":-28.6},{"s":"136 W-1.36 mJ","x":1039.04,"y":-28.6},{"s":"136 W-1.36 mJ","x":1039.08,"y":-28.7},{"s":"136 W-1.36 mJ","x":1039.12,"y":-28.9},{"s":"136 W-1.36 mJ","x":1039.16,"y":-29},{"s":"136 W-1.36 mJ","x":1039.185,"y":-28.8},{"s":"136 W-1.36 mJ","x":1039.2,"y":-28},{"s":"136 W-1.36 mJ","x":1039.215,"y":-26.3},{"s":"136 W-1.36 mJ","x":1039.228,"y":-24.3},{"s":"136 W-1.36 mJ","x":1039.24,"y":-21.6},{"s":"136 W-1.36 mJ","x":1039.25,"y":-18.8},{"s":"136 W-1.36 mJ","x":1039.258,"y":-15},{"s":"136 W-1.36 mJ","x":1039.266,"y":-10.5},{"s":"136 W-1.36 mJ","x":1039.273,"y":-6},{"s":"136 W-1.36 mJ","x":1039.279,"y":-2.5},{"s":"136 W-1.36 mJ","x":1039.285,"y":-0.2},{"s":"136 W-1.36 mJ","x":1039.29,"y":-0.6},{"s":"136 W-1.36 mJ","x":1039.297,"y":-4},{"s":"136 W-1.36 mJ","x":1039.304,"y":-8},{"s":"136 W-1.36 mJ","x":1039.311,"y":-11.5},{"s":"136 W-1.36 mJ","x":1039.318,"y":-14},{"s":"136 W-1.36 mJ","x":1039.324,"y":-14.6},{"s":"136 W-1.36 mJ","x":1039.33,"y":-14.2},{"s":"136 W-1.36 mJ","x":1039.336,"y":-14.1},{"s":"136 W-1.36 mJ","x":1039.342,"y":-15},{"s":"136 W-1.36 mJ","x":1039.35,"y":-17},{"s":"136 W-1.36 mJ","x":1039.358,"y":-19.8},{"s":"136 W-1.36 mJ","x":1039.366,"y":-23},{"s":"136 W-1.36 mJ","x":1039.376,"y":-25.6},{"s":"136 W-1.36 mJ","x":1039.39,"y":-26.8},{"s":"136 W-1.36 mJ","x":1039.41,"y":-28},{"s":"136 W-1.36 mJ","x":1039.44,"y":-28.8},{"s":"136 W-1.36 mJ","x":1039.47,"y":-29.1},{"s":"136 W-1.36 mJ","x":1039.5,"y":-29.1},{"s":"136 W-1.36 mJ","x":1039.54,"y":-28.8},{"s":"136 W-1.36 mJ","x":1039.58,"y":-28.2},{"s":"136 W-1.36 mJ","x":1039.6,"y":-28},{"s":"136 W-1.36 mJ","x":1039.62,"y":-28.1},{"s":"136 W-1.36 mJ","x":1039.64,"y":-28.4},{"s":"136 W-1.36 mJ","x":1039.684,"y":-28.8},
{"s":"160 W-1.6 mJ","x":1038.9,"y":-29.7},{"s":"160 W-1.6 mJ","x":1038.93,"y":-29.6},{"s":"160 W-1.6 mJ","x":1038.96,"y":-29.2},{"s":"160 W-1.6 mJ","x":1039.0,"y":-28.5},{"s":"160 W-1.6 mJ","x":1039.02,"y":-27.9},{"s":"160 W-1.6 mJ","x":1039.04,"y":-27.8},{"s":"160 W-1.6 mJ","x":1039.065,"y":-27.5},{"s":"160 W-1.6 mJ","x":1039.09,"y":-27.8},{"s":"160 W-1.6 mJ","x":1039.13,"y":-28.2},{"s":"160 W-1.6 mJ","x":1039.165,"y":-27.8},{"s":"160 W-1.6 mJ","x":1039.195,"y":-27.5},{"s":"160 W-1.6 mJ","x":1039.21,"y":-26.4},{"s":"160 W-1.6 mJ","x":1039.225,"y":-24.2},{"s":"160 W-1.6 mJ","x":1039.238,"y":-21.7},{"s":"160 W-1.6 mJ","x":1039.25,"y":-18.8},{"s":"160 W-1.6 mJ","x":1039.258,"y":-15},{"s":"160 W-1.6 mJ","x":1039.266,"y":-10.5},{"s":"160 W-1.6 mJ","x":1039.274,"y":-6},{"s":"160 W-1.6 mJ","x":1039.28,"y":-2.5},{"s":"160 W-1.6 mJ","x":1039.286,"y":0},{"s":"160 W-1.6 mJ","x":1039.292,"y":-0.5},{"s":"160 W-1.6 mJ","x":1039.299,"y":-4},{"s":"160 W-1.6 mJ","x":1039.306,"y":-8},{"s":"160 W-1.6 mJ","x":1039.313,"y":-11.5},{"s":"160 W-1.6 mJ","x":1039.32,"y":-13.8},{"s":"160 W-1.6 mJ","x":1039.326,"y":-14.2},{"s":"160 W-1.6 mJ","x":1039.332,"y":-13.3},{"s":"160 W-1.6 mJ","x":1039.338,"y":-11},{"s":"160 W-1.6 mJ","x":1039.344,"y":-10},{"s":"160 W-1.6 mJ","x":1039.35,"y":-10.8},{"s":"160 W-1.6 mJ","x":1039.356,"y":-12.8},{"s":"160 W-1.6 mJ","x":1039.362,"y":-15},{"s":"160 W-1.6 mJ","x":1039.368,"y":-17.5},{"s":"160 W-1.6 mJ","x":1039.374,"y":-20.5},{"s":"160 W-1.6 mJ","x":1039.382,"y":-23.5},{"s":"160 W-1.6 mJ","x":1039.394,"y":-25.3},{"s":"160 W-1.6 mJ","x":1039.414,"y":-27.6},{"s":"160 W-1.6 mJ","x":1039.434,"y":-28.7},{"s":"160 W-1.6 mJ","x":1039.467,"y":-29.1},{"s":"160 W-1.6 mJ","x":1039.5,"y":-29},{"s":"160 W-1.6 mJ","x":1039.568,"y":-28.4},{"s":"160 W-1.6 mJ","x":1039.6,"y":-28.2},{"s":"160 W-1.6 mJ","x":1039.684,"y":-28.4}
]},
"mark":{"type":"line","strokeWidth":3.5,"clip":true},
"encoding":{
"x":{"field":"x","type":"quantitative","scale":{"domain":[1038.9,1039.684],"nice":false,"zero":false},"axis":{"orient":"bottom","values":[1039.0,1039.2,1039.4,1039.6],"format":".1f","labels":true,"labelFontSize":13,"labelPadding":14,"tickSize":-7,"grid":true,"title":"Spectrum, nm","titleFontSize":27,"titlePadding":11.5}},
"y":{"field":"y","type":"quantitative","scale":{"domain":[-32,5.5],"nice":false,"zero":false},"axis":{"orient":"left","values":[0,-10,-20,-30],"format":"d","labels":true,"labelFontSize":13,"labelPadding":11,"tickSize":-7,"grid":true,"title":"Intensity, dB","titleFontSize":27,"titlePadding":10}},
"stroke":{"field":"s","type":"nominal","scale":{"domain":["113 W-1.13 mJ","136 W-1.36 mJ","160 W-1.6 mJ"],"range":["#FF148C","#1414FF","#8C1EFF"]},"legend":{"orient":"top-left","title":null,"symbolType":"stroke","symbolSize":1600,"symbolStrokeWidth":3.5,"clipHeight":21,"labelFontSize":17,"labelFontWeight":"normal","labelColor":"black","padding":2,"offset":0,"strokeColor":"black","fillColor":"white","labelOffset":4,"rowPadding":0}}
}},
{"data":{"values":[{"x":1039.285,"y":2.55,"y2":0},{"x":1039.346,"y":2.55,"y2":-10}]},
"mark":{"type":"rule","strokeDash":[2,2],"strokeWidth":2,"color":"black"},
"encoding":{
"x":{"field":"x","type":"quantitative","scale":{"domain":[1038.9,1039.684],"nice":false,"zero":false},"axis":{"orient":"bottom","values":[1039.1,1039.3,1039.5],"tickSize":-4,"tickWidth":1,"grid":true,"gridDash":[3,3],"gridColor":"#d8d8d8","title":null}},
"y":{"field":"y","type":"quantitative","scale":{"domain":[-32,5.5],"nice":false,"zero":false},"axis":{"orient":"left","values":[-5,-15,-25],"tickSize":-4,"tickWidth":1,"grid":true,"gridDash":[3,3],"gridColor":"#d8d8d8","title":null}},
"y2":{"field":"y2"}
}},
{"data":{"values":[{"x":1039.374,"x2":1039.56,"y":3.75,"y2":0.75}]},
"mark":{"type":"rect","fill":"white","stroke":"#FF0000","strokeWidth":2},
"encoding":{
"x":{"field":"x","type":"quantitative","scale":{"domain":[1038.9,1039.684],"nice":false,"zero":false},"axis":{"orient":"top","values":[1039.0,1039.2,1039.4,1039.6],"tickSize":-7,"title":null}},
"x2":{"field":"x2"},
"y":{"field":"y","type":"quantitative","scale":{"domain":[-32,5.5],"nice":false,"zero":false},"axis":{"orient":"right","values":[0,-10,-20,-30],"tickSize":-7,"title":null}},
"y2":{"field":"y2"}
}},
{"data":{"values":[{"x":1039.285,"x2":1039.346,"y":2.55}]},
"mark":{"type":"rule","strokeWidth":1.5,"color":"black"},
"encoding":{
"x":{"field":"x","type":"quantitative","scale":{"domain":[1038.9,1039.684],"nice":false,"zero":false},"axis":{"orient":"top","values":[1039.1,1039.3,1039.5],"tickSize":-4,"tickWidth":1,"title":null}},
"x2":{"field":"x2"},
"y":{"field":"y","type":"quantitative","scale":{"domain":[-32,5.5],"nice":false,"zero":false},"axis":{"orient":"right","values":[-5,-15,-25],"tickSize":-4,"tickWidth":1,"title":null}}
}},
{"data":{"values":[{"x":1039.2918,"y":2.55,"sh":"triangle-left"},{"x":1039.3392,"y":2.55,"sh":"triangle-right"}]},
"mark":{"type":"point","filled":true,"color":"black","size":60,"opacity":1},
"encoding":{
"x":{"field":"x","type":"quantitative","scale":{"domain":[1038.9,1039.684],"nice":false,"zero":false},"axis":null},
"y":{"field":"y","type":"quantitative","scale":{"domain":[-32,5.5],"nice":false,"zero":false},"axis":null},
"shape":{"field":"sh","type":"nominal","scale":null}
}},
{"data":{"values":[{"x":1039.467,"y":2.25,"t":"≈0.058 nm"}]},
"mark":{"type":"text","color":"black","fontSize":17.5,"fontWeight":"bold","align":"center","baseline":"middle"},
"encoding":{
"x":{"field":"x","type":"quantitative","scale":{"domain":[1038.9,1039.684],"nice":false,"zero":false},"axis":null},
"y":{"field":"y","type":"quantitative","scale":{"domain":[-32,5.5],"nice":false,"zero":false},"axis":null},
"text":{"field":"t"}
}}
]}
]
}
